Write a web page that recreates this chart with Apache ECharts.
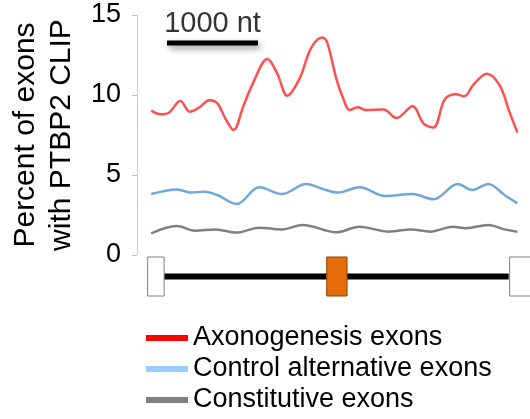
<!DOCTYPE html>
<html><head><meta charset="utf-8">
<script src="https://cdn.jsdelivr.net/npm/echarts@6/dist/echarts.min.js"></script>
<style>html,body{margin:0;padding:0;background:#fff}#c{width:530px;height:419px}</style>
</head><body><div id="c"></div>
<script>
// ---- data (positions in nt, values in percent) ----
const seriesNames = ['Axonogenesis exons', 'Control alternative exons', 'Constitutive exons'];
const axonX = [156,263,351,476,582,688,795,883,971,1061,1167,1274,1433,1540,1652,1788,1912,2035,2089,2195,2266,2337,2426,2514,2710,2852,3029,3153,3259,3384,3508,3596,3703,3844,3987,4093,4182];
const axonY = [9.02,8.79,8.89,9.63,8.96,9.23,9.67,9.48,8.54,7.81,9.27,10.73,12.25,11.36,9.96,11.04,12.92,13.6,13.3,10.94,9.79,9.06,9.23,9.06,9.10,8.56,9.29,8.19,7.97,9.74,10.05,9.92,10.68,11.33,10.6,8.96,7.65];
const ctrlX = [156,439,599,742,883,1096,1344,1593,1859,2054,2213,2444,2727,3029,3259,3525,3685,3862,4040,4182];
const ctrlY = [3.81,4.10,3.90,3.96,3.75,3.19,4.23,3.81,4.44,4.10,3.90,4.23,3.69,3.81,3.48,4.44,4.06,4.44,3.75,3.23];
const constX = [156,439,635,865,1096,1344,1593,1823,2195,2444,2763,3011,3224,3472,3614,3862,4040,4182];
const constY = [1.35,1.81,1.52,1.60,1.40,1.71,1.60,1.88,1.42,1.77,1.46,1.60,1.46,1.77,1.67,1.88,1.60,1.46];
const yTicks = [0, 5, 10, 15];
const scaleBarNt = [330, 1330];
const scaleBarLabel = '1000 nt';
const geneStart = [298, 117, 2085, 4096];
const geneEnd = [4086, 298, 2309, 4380];
const geneType = ['intron', 'exon', 'alt', 'exon'];

const zip = (xs, ys) => xs.map((x, i) => [x, ys[i]]);
const FONT = 'Liberation Sans, Arial, sans-serif';
const X_MAX = 4320;

const chart = echarts.init(document.getElementById('c'), null, {renderer: 'canvas'});
chart.setOption({
  animation: false,
  backgroundColor: '#fff',
  grid: [
    {left: 137, top: 15, width: 406, height: 240},
    {left: 137, top: 257, width: 406, height: 39}
  ],
  xAxis: [
    {gridIndex: 0, type: 'value', min: 0, max: X_MAX, show: false},
    {gridIndex: 1, type: 'value', min: 0, max: X_MAX, show: false}
  ],
  yAxis: [
    {gridIndex: 0, type: 'value', min: yTicks[0], max: yTicks[yTicks.length - 1], interval: 5,
     axisLine: {show: true, lineStyle: {color: '#d0d0d0', width: 1}},
     axisTick: {show: true, length: 5, lineStyle: {color: '#c0c0c0'}},
     splitLine: {show: false},
     axisLabel: {fontSize: 27, color: '#000', fontFamily: FONT, margin: 16},
     name: 'Percent of exons\nwith PTBP2 CLIP', nameLocation: 'middle', nameRotate: 90, nameGap: 57,
     nameTextStyle: {fontSize: 30, color: '#000', fontFamily: FONT, lineHeight: 36}
    },
    {gridIndex: 1, type: 'value', min: 0, max: 1, show: false}
  ],
  legend: {
    orient: 'vertical', left: 146, top: 323, height: 200, padding: 0,
    itemWidth: 42, itemHeight: 6, itemGap: 1,
    icon: 'rect',
    textStyle: {fontSize: 27, color: '#000', fontFamily: FONT, lineHeight: 30},
    data: [
      {name: seriesNames[0], itemStyle: {color: '#ff0000'}},
      {name: seriesNames[1], itemStyle: {color: '#99ccff'}},
      {name: seriesNames[2], itemStyle: {color: '#808080'}}
    ]
  },
  series: [
    {name: seriesNames[0], type: 'line', xAxisIndex: 0, yAxisIndex: 0, data: zip(axonX, axonY),
     smooth: 0.35, symbol: 'none', lineStyle: {color: '#ff5050', width: 2.5}, itemStyle: {color: '#ff0000'}},
    {name: seriesNames[1], type: 'line', xAxisIndex: 0, yAxisIndex: 0, data: zip(ctrlX, ctrlY),
     smooth: 0.35, symbol: 'none', lineStyle: {color: '#6fa8dc', width: 2.5}, itemStyle: {color: '#99ccff'}},
    {name: seriesNames[2], type: 'line', xAxisIndex: 0, yAxisIndex: 0, data: zip(constX, constY),
     smooth: 0.35, symbol: 'none', lineStyle: {color: '#808080', width: 2.5}, itemStyle: {color: '#808080'}},
    {name: 'scalebar', type: 'line', xAxisIndex: 0, yAxisIndex: 0,
     data: [[scaleBarNt[0], 13.25], [scaleBarNt[1], 13.25]], symbol: 'none', silent: true,
     lineStyle: {color: '#000', width: 5, cap: 'butt', shadowColor: 'rgba(0,0,0,0.45)', shadowBlur: 6, shadowOffsetX: 2, shadowOffsetY: 3}},
    {name: 'scalelabel', type: 'scatter', xAxisIndex: 0, yAxisIndex: 0,
     data: [[(scaleBarNt[0] + scaleBarNt[1]) / 2, 14.45]], symbolSize: 0, silent: true,
     label: {show: true, position: 'inside', formatter: scaleBarLabel, fontSize: 29, color: '#000', fontFamily: FONT}},
    {name: 'gene', type: 'custom', xAxisIndex: 1, yAxisIndex: 1, silent: true, clip: false,
     data: geneStart.map((s, i) => [s, geneEnd[i]]),
     encode: {x: [0, 1]},
     renderItem: function (params, api) {
       const s = api.coord([api.value(0), 0.5]);
       const e = api.coord([api.value(1), 0.5]);
       const top = api.coord([0, 1])[1];
       const bot = api.coord([0, 0])[1];
       const t = geneType[params.dataIndex];
       if (t === 'intron') {
         return {type: 'rect', shape: {x: s[0], y: s[1] - 3, width: e[0] - s[0], height: 6}, style: {fill: '#000'}};
       }
       return {type: 'rect', shape: {x: s[0], y: top, width: e[0] - s[0], height: bot - top},
               style: {fill: t === 'alt' ? '#e46c0a' : '#ffffff', stroke: t === 'alt' ? '#8a4a10' : '#808080', lineWidth: 1}};
     }
    }
  ]
});
</script>
</body></html>
